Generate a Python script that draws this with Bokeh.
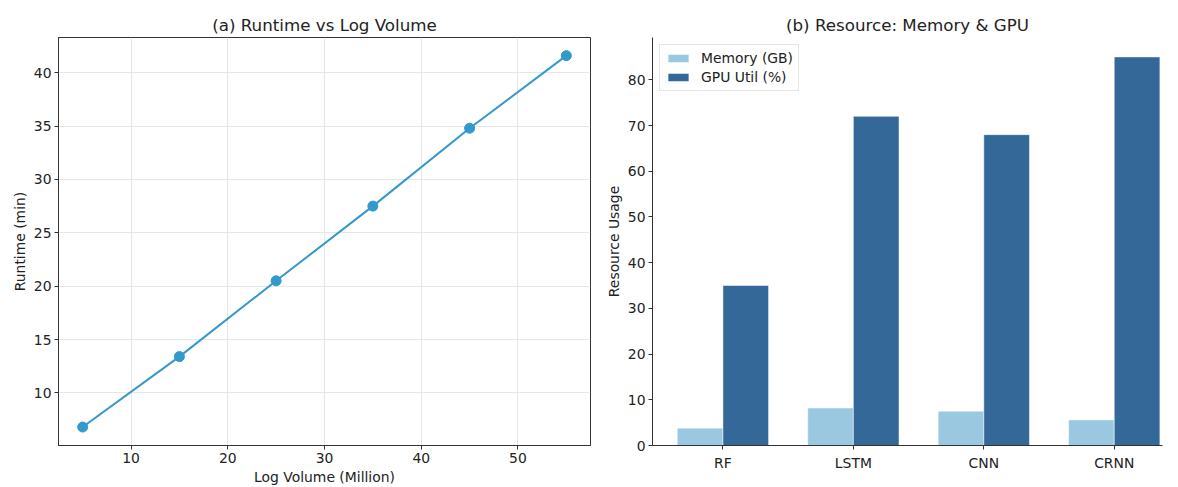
from bokeh.plotting import figure
from bokeh.layouts import row
from bokeh.models import ColumnDataSource, Legend, LegendItem, FixedTicker, Range1d
from bokeh.transform import dodge
from bokeh.embed import file_html
from bokeh.resources import INLINE

# ---- data ----
log_volume = [5, 15, 25, 35, 45, 55]
runtime = [6.8, 13.4, 20.5, 27.5, 34.8, 41.6]

models = ["RF", "LSTM", "CNN", "CRNN"]
memory_gb = [3.8, 8.2, 7.5, 5.6]
gpu_util = [35, 72, 68, 85]

FONT = "DejaVu Sans"
TXT = "#222222"
AX = "#333333"
FS = "13.9px"

def style(p):
    p.title.text_font = FONT
    p.title.text_font_size = "16.7px"
    p.title.text_font_style = "normal"
    p.title.align = "center"
    p.title.text_color = TXT
    p.title.standoff = 6
    for ax in (p.xaxis[0], p.yaxis[0]):
        ax.axis_label_text_font = FONT
        ax.axis_label_text_font_size = FS
        ax.axis_label_text_font_style = "normal"
        ax.axis_label_text_color = TXT
        ax.major_label_text_font = FONT
        ax.major_label_text_font_size = FS
        ax.major_label_text_color = TXT
        ax.axis_line_color = AX
        ax.major_tick_line_color = AX
        ax.major_tick_out = 4
        ax.major_tick_in = 0
        ax.minor_tick_line_color = None
        ax.major_label_standoff = 3
        ax.axis_label_standoff = 3

# ---- left: line chart ----
p1 = figure(width=600, height=487, output_backend="svg", toolbar_location=None,
            title="(a) Runtime vs Log Volume",
            x_range=Range1d(2.5, 57.5), y_range=Range1d(5.07, 43.3),
            min_border_left=58, min_border_right=10, min_border_top=37, min_border_bottom=42)
p1.line(log_volume, runtime, line_color="#3399cc", line_width=2)
p1.scatter(log_volume, runtime, size=10, fill_color="#3399cc", line_color="#3399cc")
p1.xaxis.axis_label = "Log Volume (Million)"
p1.yaxis.axis_label = "Runtime (min)"
p1.xaxis.ticker = FixedTicker(ticks=[10, 20, 30, 40, 50])
p1.yaxis.ticker = FixedTicker(ticks=[10, 15, 20, 25, 30, 35, 40])
p1.grid.grid_line_color = "#e6e6e6"
p1.grid.grid_line_width = 1
p1.outline_line_color = AX
p1.outline_line_alpha = 1
style(p1)

# ---- right: grouped bar chart ----
idx = list(range(len(models)))
src = ColumnDataSource(dict(idx=idx, memory=memory_gb, gpu=gpu_util))
p2 = figure(width=578, height=487, output_backend="svg", toolbar_location=None,
            title="(b) Resource: Memory & GPU",
            x_range=Range1d(-0.54, 3.37), y_range=Range1d(0, 89.25),
            min_border_left=52, min_border_right=16, min_border_top=37, min_border_bottom=42)
r_mem = p2.vbar(x=dodge("idx", -0.175), top="memory", width=0.35, source=src,
                fill_color="#9ac8e1", line_color="white", line_width=0.5)
r_gpu = p2.vbar(x=dodge("idx", 0.175), top="gpu", width=0.35, source=src,
                fill_color="#346899", line_color="white", line_width=0.5)
p2.yaxis.axis_label = "Resource Usage"
p2.yaxis.ticker = FixedTicker(ticks=[0, 10, 20, 30, 40, 50, 60, 70, 80])
p2.xaxis.ticker = FixedTicker(ticks=idx)
p2.xaxis.major_label_overrides = {i: m for i, m in zip(idx, models)}
p2.xgrid.grid_line_color = None
p2.ygrid.grid_line_color = None
p2.outline_line_color = None
style(p2)
p2.xaxis.major_label_standoff = 5

legend = Legend(items=[LegendItem(label="Memory (GB)", renderers=[r_mem]),
                       LegendItem(label="GPU Util (%)", renderers=[r_gpu])],
                location="top_left")
legend.label_text_font = FONT
legend.label_text_font_size = FS
legend.label_text_color = TXT
legend.border_line_color = "#cccccc"
legend.border_line_width = 1
legend.background_fill_alpha = 0.9
legend.glyph_width = 26
legend.glyph_height = 10
legend.spacing = 3
legend.padding = 5
legend.margin = 7
legend.label_standoff = 10
legend.label_height = 16
p2.add_layout(legend)

layout = row(p1, p2)
open("out.html", "w").write(file_html(layout, INLINE))
